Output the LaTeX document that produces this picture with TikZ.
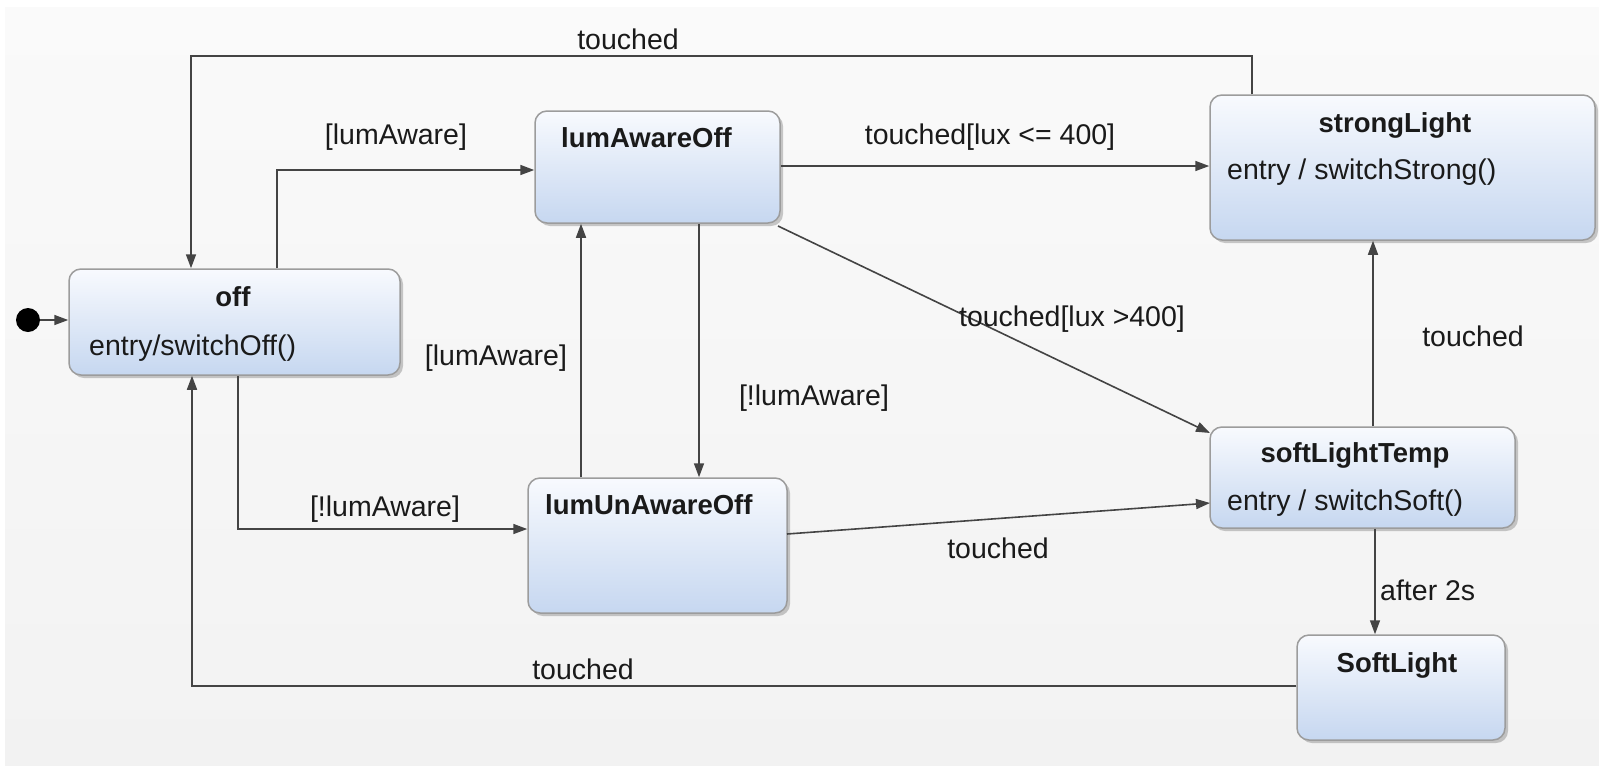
\documentclass[tikz,border=0pt]{standalone}
\usepackage{fontspec}
\setmainfont{Liberation Sans}
\usetikzlibrary{arrows.meta,shadows,calc}
\definecolor{bgtop}{HTML}{FAFAFA}
\definecolor{bgbot}{HTML}{F2F2F2}
\definecolor{sttop}{HTML}{F8FAFE}
\definecolor{stbot}{HTML}{C6D7F0}
\definecolor{stborder}{HTML}{9C9C9C}
\definecolor{edge}{HTML}{444444}
\definecolor{txt}{HTML}{1A1A1A}
\tikzset{
  statebox/.style={draw=stborder, line width=1.5pt, rounded corners=12pt,
    top color=sttop, bottom color=stbot, inner sep=0pt,
    drop shadow={shadow xshift=3pt, shadow yshift=-3pt, opacity=0.35, fill=black!60}},
  title/.style={font=\fontsize{27.5}{30}\selectfont\bfseries, text=txt, inner sep=0pt},
  body/.style={font=\fontsize{28.5}{30}\selectfont, text=txt, inner sep=0pt, anchor=west},
  lbl/.style={font=\fontsize{28.5}{30}\selectfont, text=txt, inner sep=0pt},
  arr/.style={draw=edge, line width=1.6pt, -{Triangle[length=14pt,width=10pt]}},
}
\begin{document}
\begin{tikzpicture}[x=1pt,y=-1pt]
\useasboundingbox (0,0) rectangle (1599,766);
\fill[white] (0,0) rectangle (1599,766);
\shade[top color=bgtop, bottom color=bgbot] (5,7) rectangle (1599,766);

% states
\node[statebox, minimum width=331pt, minimum height=106pt] (off) at (234.5,322) {};
\node[statebox, minimum width=245pt, minimum height=112pt] (lumAwareOff) at (657.5,167) {};
\node[statebox, minimum width=385pt, minimum height=145pt] (strongLight) at (1402.5,167.5) {};
\node[statebox, minimum width=305pt, minimum height=101pt] (softLightTemp) at (1362.5,477.5) {};
\node[statebox, minimum width=208pt, minimum height=105pt] (SoftLight) at (1401,687.5) {};
\node[statebox, minimum width=259pt, minimum height=135pt] (lumUnAwareOff) at (657.5,545.5) {};
\fill[black] (28,320) circle (12pt);
\coordinate (init) at (40,320);

% texts in states
\node[title] (tOff) at (233,297) {off};
\node[body] (eOff) at (89,348) {entry/switchOff()};
\node[title, anchor=west] (tLAO) at (561,138) {lumAwareOff};
\node[title] (tSL) at (1395,125) {strongLight};
\node[body] (eSL) at (1227,172) {entry / switchStrong()};
\node[title] (tSLT) at (1355,455) {softLightTemp};
\node[body] (eSLT) at (1227,503) {entry / switchSoft()};
\node[title] (tSoft) at (1397,665) {SoftLight};
\node[title, anchor=west] (tLUO) at (545,505) {lumUnAwareOff};

% helper coordinates
\coordinate (c1) at (1252,56);
\coordinate (c2) at (191,56);
\coordinate (c3) at (277,170);
\coordinate (c4) at (780,166);
\coordinate (c5) at (581,300);
\coordinate (c6) at (699,300);
\coordinate (c7) at (1373,300);
\coordinate (c8) at (238,529);
\coordinate (c9) at (1375,600);
\coordinate (c10) at (192,686);
\coordinate (d1) at (778,226);
\coordinate (d2) at (1210,433);
\coordinate (d3) at (787,534);
\coordinate (d4) at (1210,503);

% edges
\draw[arr] (init) -- (init -| off.west);
\draw[arr] (c1 |- strongLight.north) -- (c1) -- (c2) -- (c2 |- off.north);
\draw[arr] (c3 |- off.north) -- (c3) -- (c3 -| lumAwareOff.west);
\draw[arr] (c4 -| lumAwareOff.east) -- (c4 -| strongLight.west);
\draw[arr] (d1) -- (d2);
\draw[arr] (c5 |- lumUnAwareOff.north) -- (c5 |- lumAwareOff.south);
\draw[arr] (c6 |- lumAwareOff.south) -- (c6 |- lumUnAwareOff.north);
\draw[arr] (c7 |- softLightTemp.north) -- (c7 |- strongLight.south);
\draw[arr] (c8 |- off.south) -- (c8) -- (c8 -| lumUnAwareOff.west);
\draw[arr] (d3) -- (d4);
\draw[arr] (c9 |- softLightTemp.south) -- (c9 |- SoftLight.north);
\draw[arr] (c10 -| SoftLight.west) -- (c10) -- (c10 |- off.south);

% labels
\node[lbl] (l1) at (628,39) {touched};
\node[lbl] (l2) at (396,137) {[lumAware]};
\node[lbl] (l3) at (990,137) {touched[lux <= 400]};
\node[lbl] (l4) at (1072,319) {touched[lux >400]};
\node[lbl] (l5) at (496,358) {[lumAware]};
\node[lbl] (l6) at (814,398) {[!lumAware]};
\node[lbl] (l7) at (1473,336) {touched};
\node[lbl] (l8) at (385,509) {[!lumAware]};
\node[lbl] (l9) at (998,548) {touched};
\node[lbl, anchor=west] (l10) at (1380,590) {after 2s};
\node[lbl] (l11) at (583,669) {touched};
\end{tikzpicture}
\end{document}
